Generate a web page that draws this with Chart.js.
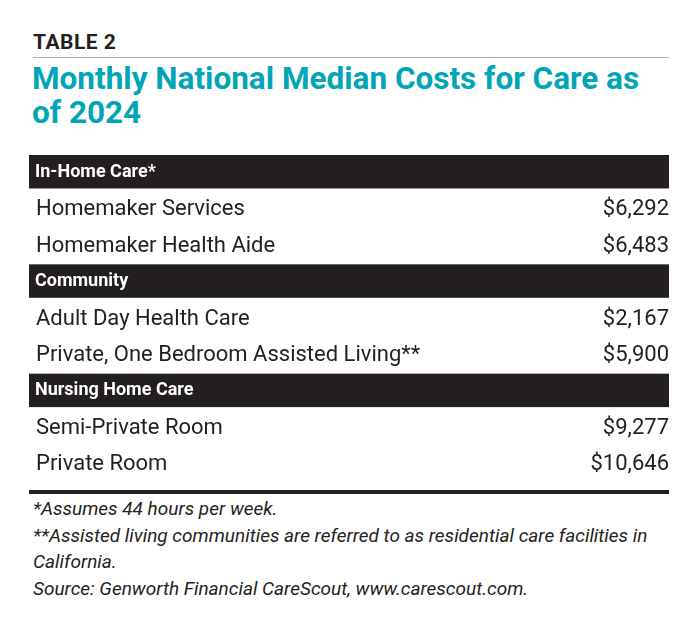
<!DOCTYPE html>
<html>
<head>
<meta charset="utf-8">
<script src="https://cdn.jsdelivr.net/npm/chart.js@4"></script>
<style>
  body { margin: 0; background: #fff; font-family: Roboto, sans-serif; }
  #wrap { position: relative; width: 700px; height: 618px; }
  .kicker { position: absolute; left: 33px; top: 30px; font-weight: 700; font-size: 21px; color: #231f20; letter-spacing: 0.5px; }
  .rule { position: absolute; left: 33px; width: 636px; top: 57px; border-top: 1px solid #b0b0b0; }
  .title { position: absolute; left: 32px; top: 62px; width: 640px; font-weight: 700; font-size: 31.5px; line-height: 34px; color: #00a6b5; }
  #box { position: absolute; left: 29px; top: 154px; width: 640px; height: 328px; }
  .bottom { position: absolute; left: 29px; width: 640px; top: 490px; border-top: 4px solid #231f20; }
  .notes { position: absolute; left: 33px; top: 496px; width: 640px; font-style: italic; font-size: 19px; line-height: 26.7px; color: #231f20; }
</style>
</head>
<body>
<div id="wrap">
  <div class="kicker">TABLE 2</div>
  <div class="rule"></div>
  <div class="title">Monthly National Median Costs for Care as of 2024</div>
  <div id="box"><canvas id="tbl"></canvas></div>
  <div class="bottom"></div>
  <div class="notes">*Assumes 44 hours per week.<br>**Assisted living communities are referred to as residential care facilities in California.<br>Source: Genworth Financial CareScout, www.carescout.com.</div>
</div>
<script>
// rows of the table, headers have no value
const rowLabels = ['In-Home Care*', 'Homemaker Services', 'Homemaker Health Aide', 'Community',
  'Adult Day Health Care', 'Private, One Bedroom Assisted Living**', 'Nursing Home Care',
  'Semi-Private Room', 'Private Room'];
const isHeader = [true, false, false, true, false, false, true, false, false];
const costs = [null, 6292, 6483, null, 2167, 5900, null, 9277, 10646];

const tablePlugin = {
  id: 'tablePlugin',
  afterDraw(chart) {
    const ctx = chart.ctx;
    const y = chart.scales.y;
    const area = chart.chartArea;
    const h = (y.bottom - y.top) / rowLabels.length;
    ctx.save();
    ctx.textBaseline = 'middle';
    rowLabels.forEach((lab, i) => {
      const cy = y.getPixelForValue(i);
      if (isHeader[i]) {
        ctx.fillStyle = '#231f20';
        ctx.fillRect(area.left, cy - h / 2 + 1, area.right - area.left, h - 3);
        ctx.fillStyle = '#fff';
        ctx.font = 'bold 18px Roboto';
        ctx.textAlign = 'left';
        ctx.fillText(lab, area.left + 6, cy);
      } else {
        ctx.fillStyle = '#231f20';
        ctx.font = '22px Roboto';
        ctx.textAlign = 'left';
        ctx.fillText(lab, area.left + 7, cy + 1);
        ctx.textAlign = 'right';
        ctx.fillText('$' + costs[i].toLocaleString('en-US'), area.right, cy + 1);
      }
    });
    ctx.restore();
  }
};

new Chart(document.getElementById('tbl').getContext('2d'), {
  type: 'bar',
  data: {
    labels: rowLabels,
    datasets: [{ data: costs.map(v => v || 0), backgroundColor: 'rgba(0,0,0,0)' }]
  },
  options: {
    indexAxis: 'y',
    responsive: true,
    maintainAspectRatio: false,
    animation: false,
    layout: { padding: 0 },
    scales: {
      x: { display: false, beginAtZero: true },
      y: { display: false, offset: true }
    },
    plugins: { legend: { display: false }, tooltip: { enabled: false } }
  },
  plugins: [tablePlugin]
});
</script>
</body>
</html>
